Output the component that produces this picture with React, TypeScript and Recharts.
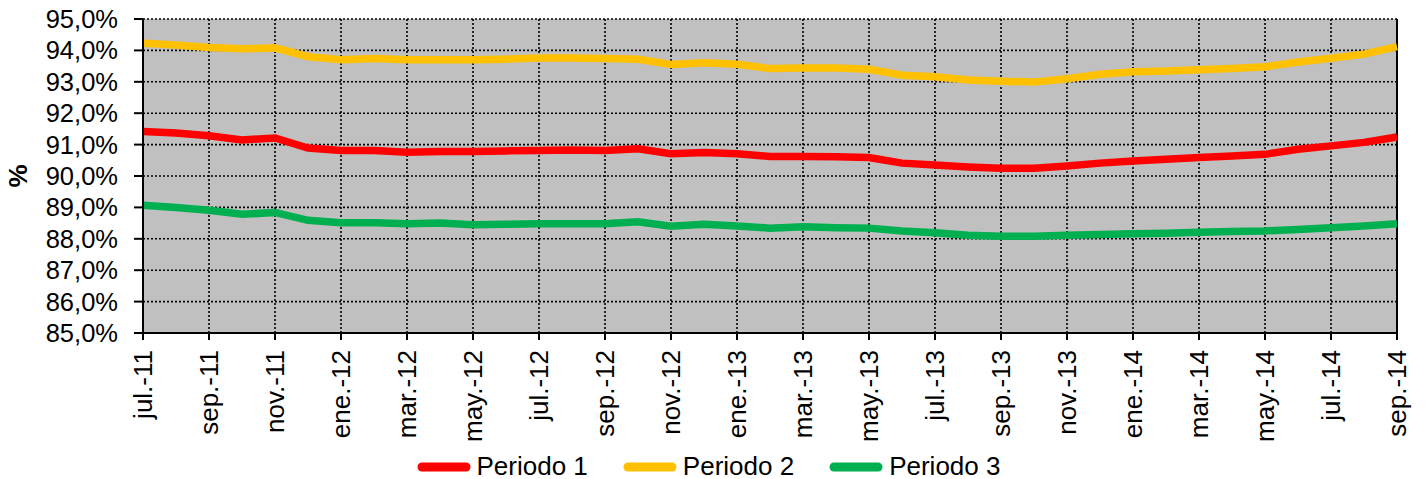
import React from 'react';
import { LineChart, Line, XAxis, YAxis, CartesianGrid, Legend, ReferenceLine } from 'recharts';

const months = [
  'jul.-11', 'ago.-11', 'sep.-11', 'oct.-11', 'nov.-11', 'dic.-11',
  'ene.-12', 'feb.-12', 'mar.-12', 'abr.-12', 'may.-12', 'jun.-12', 'jul.-12', 'ago.-12', 'sep.-12', 'oct.-12', 'nov.-12', 'dic.-12',
  'ene.-13', 'feb.-13', 'mar.-13', 'abr.-13', 'may.-13', 'jun.-13', 'jul.-13', 'ago.-13', 'sep.-13', 'oct.-13', 'nov.-13', 'dic.-13',
  'ene.-14', 'feb.-14', 'mar.-14', 'abr.-14', 'may.-14', 'jun.-14', 'jul.-14', 'ago.-14', 'sep.-14',
];

const periodo1 = [
  91.42, 91.37, 91.28, 91.15, 91.21, 90.89, 90.81, 90.81, 90.76, 90.78, 90.78, 90.80, 90.81,
  90.83, 90.81, 90.87, 90.71, 90.75, 90.71, 90.62, 90.62, 90.61, 90.59, 90.41, 90.35, 90.29,
  90.25, 90.25, 90.32, 90.41, 90.48, 90.53, 90.59, 90.64, 90.69, 90.85, 90.96, 91.07, 91.24,
];

const periodo2 = [
  94.23, 94.17, 94.09, 94.05, 94.08, 93.80, 93.70, 93.74, 93.70, 93.70, 93.70, 93.72, 93.76,
  93.76, 93.74, 93.72, 93.55, 93.61, 93.56, 93.42, 93.44, 93.44, 93.40, 93.21, 93.16, 93.06,
  93.02, 92.99, 93.10, 93.24, 93.32, 93.34, 93.38, 93.42, 93.48, 93.63, 93.75, 93.88, 94.12,
];

const periodo3 = [
  89.07, 89.00, 88.91, 88.78, 88.84, 88.59, 88.51, 88.51, 88.48, 88.50, 88.45, 88.46, 88.48,
  88.48, 88.48, 88.54, 88.40, 88.46, 88.41, 88.34, 88.38, 88.35, 88.34, 88.25, 88.19, 88.11,
  88.08, 88.08, 88.11, 88.14, 88.16, 88.18, 88.21, 88.23, 88.25, 88.30, 88.35, 88.41, 88.48,
];

const yTicks = [85, 86, 87, 88, 89, 90, 91, 92, 93, 94, 95];

const seriesNames = ['Periodo 1', 'Periodo 2', 'Periodo 3'];
const seriesColors = ['#FF0000', '#FFC000', '#00B050'];

const data = months.map((m, i) => ({
  month: m,
  p1: periodo1[i],
  p2: periodo2[i],
  p3: periodo3[i],
}));

const FONT = '"Liberation Sans", Arial, sans-serif';

const fmt = (v: number) => v.toFixed(1).replace('.', ',') + '%';

const XTick = (props: any) => {
  const { x, y, payload } = props;
  return (
    <text
      x={x}
      y={y}
      transform={`rotate(-90, ${x}, ${y})`}
      textAnchor="end"
      dominantBaseline="central"
      fontSize={26}
      fontFamily={FONT}
      fill="#000"
    >
      {payload.value}
    </text>
  );
};

const YLabel = (props: any) => {
  const { viewBox } = props;
  const cy = viewBox.y + viewBox.height / 2;
  return (
    <text
      x={18}
      y={cy}
      transform={`rotate(-90, 18, ${cy})`}
      textAnchor="middle"
      dominantBaseline="central"
      fontSize={26}
      fontWeight="bold"
      fontFamily={FONT}
      fill="#000"
    >
      %
    </text>
  );
};

const LegendContent = () => (
  <div style={{ display: 'flex', justifyContent: 'center', alignItems: 'center', fontFamily: FONT, fontSize: 26, marginTop: 6, paddingLeft: 20 }}>
    {seriesNames.map((n, i) => (
      <div key={n} style={{ display: 'flex', alignItems: 'center', marginRight: i < 2 ? 35 : 0 }}>
        <svg width={54} height={12} style={{ marginRight: 6 }}>
          <line x1={5} y1={6} x2={49} y2={6} stroke={seriesColors[i]} strokeWidth={9} strokeLinecap="round" />
        </svg>
        <span>{n}</span>
      </div>
    ))}
  </div>
);

export default function App() {
  return (
    <div style={{ position: 'absolute', left: 0, top: 0, background: '#fff' }}>
      <LineChart
        width={1427}
        height={479}
        data={data}
        margin={{ top: 19, right: 30, bottom: 0, left: 0 }}
      >
        <CartesianGrid
          fill="#C0C0C0"
          stroke="#000"
          strokeDasharray="2 2"
          strokeWidth={1.6}
        />
        <XAxis
          dataKey="month"
          interval={1}
          tick={<XTick />}
          tickSize={7}
          tickMargin={10}
          height={112}
          axisLine={{ stroke: '#000', strokeWidth: 2 }}
          tickLine={{ stroke: '#000', strokeWidth: 2 }}
        />
        <YAxis
          domain={[85, 95]}
          ticks={yTicks}
          tickFormatter={fmt}
          width={143}
          tickSize={9}
          tickMargin={16}
          interval={0}
          axisLine={{ stroke: '#000', strokeWidth: 2 }}
          tickLine={{ stroke: '#000', strokeWidth: 2 }}
          tick={{ fill: '#000', fontSize: 25.5, fontFamily: FONT }}
          label={<YLabel />}
        />
        <ReferenceLine x={months[months.length - 1]} stroke="#000" strokeWidth={2} />
        <Legend verticalAlign="bottom" height={34} content={<LegendContent />} />
        <Line type="linear" dataKey="p1" name={seriesNames[0]} stroke={seriesColors[0]} strokeWidth={7.5} dot={false} isAnimationActive={false} />
        <Line type="linear" dataKey="p2" name={seriesNames[1]} stroke={seriesColors[1]} strokeWidth={7.5} dot={false} isAnimationActive={false} />
        <Line type="linear" dataKey="p3" name={seriesNames[2]} stroke={seriesColors[2]} strokeWidth={7.5} dot={false} isAnimationActive={false} />
      </LineChart>
    </div>
  );
}
